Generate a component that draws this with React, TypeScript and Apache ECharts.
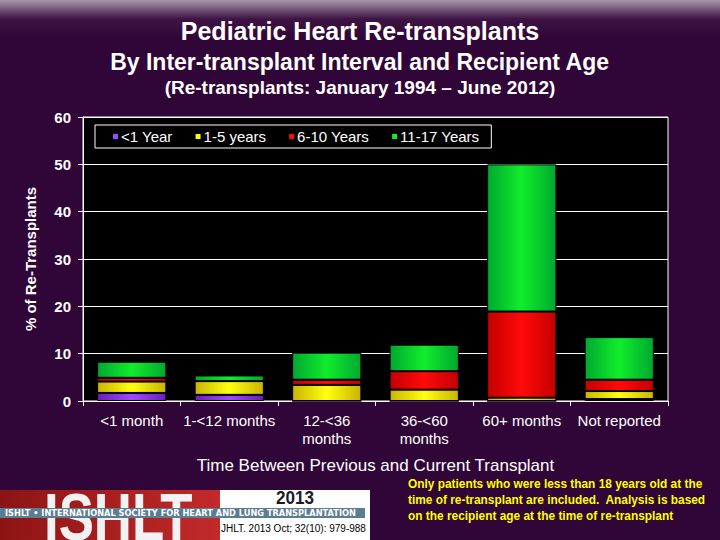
import React, { useEffect, useRef } from "react";
import * as echarts from "echarts";

const categories = ["<1 month", "1-<12 months", "12-<36\nmonths", "36-<60\nmonths", "60+ months", "Not reported"];
const seriesNames = ["<1 Year", "1-5 years", "6-10 Years", "11-17 Years"];
const lessThan1Year = [1.7, 1.3, 0, 0, 0, 0.4];
const oneTo5Years = [2.4, 2.9, 3.4, 2.4, 0.7, 1.7];
const sixTo10Years = [0.8, 0, 1.1, 3.9, 18.2, 2.4];
const elevenTo17Years = [3.4, 1.2, 5.7, 5.6, 31.1, 9.0];
const yTicks = { min: 0, max: 60, interval: 10 };

const noteLines = [
  "Only patients who were less than 18 years old at the",
  "time of re-transplant are included.  Analysis is based",
  "on the recipient age at the time of re-transplant",
];

const barColors = [
  ["#6a1fb8", "#a148ff"],
  ["#c9b400", "#ffff10"],
  ["#c40000", "#ff0a0a"],
  ["#00a830", "#10ee2a"],
];

function grad(edge: string, mid: string) {
  return new echarts.graphic.LinearGradient(0, 0, 1, 0, [
    { offset: 0, color: edge },
    { offset: 0.5, color: mid },
    { offset: 1, color: edge },
  ]);
}

const FONT = "Arial, 'Liberation Sans', sans-serif";

export default function App() {
  const ref = useRef<HTMLDivElement>(null);
  useEffect(() => {
    if (!ref.current) return;
    const chart = echarts.init(ref.current, null, { renderer: "svg" });
    const data = [lessThan1Year, oneTo5Years, sixTo10Years, elevenTo17Years];
    const series = data.map((d, i) => ({
      name: seriesNames[i],
      type: "bar",
      stack: "total",
      barWidth: "71%",
      data: d,
      itemStyle: { color: grad(barColors[i][0], barColors[i][1]), borderColor: "#000", borderWidth: 1 },
    }));
    const option: any = {
      animation: false,
      backgroundColor: "#300638",
      textStyle: { fontFamily: FONT },
      grid: {
        left: 83,
        right: 52,
        top: 117,
        bottom: 139,
        show: true,
        backgroundColor: "#000",
        borderColor: "#fff",
        borderWidth: 1,
      },
      legend: {
        data: seriesNames.map((n, i) => ({ name: n, itemStyle: { color: barColors[i][1] } })),
        left: 95,
        top: 125,
        width: 400,
        padding: [4, 12, 4, 16],
        itemGap: 21,
        itemWidth: 7,
        itemHeight: 7,
        icon: "rect",
        backgroundColor: "#000",
        borderColor: "#fff",
        borderWidth: 1,
        textStyle: { color: "#fff", fontSize: 15, fontFamily: FONT, padding: [0, 0, 0, -3] },
      },
      xAxis: {
        type: "category",
        data: categories,
        axisLine: { show: true, lineStyle: { color: "#fff", width: 1 } },
        axisTick: { show: true, alignWithLabel: false, length: 5, lineStyle: { color: "#fff" } },
        axisLabel: {
          interval: 0,
          color: "#fff",
          fontSize: 15,
          fontFamily: FONT,
          margin: 10,
          lineHeight: 18,
        },
        name: "Time Between Previous and Current Transplant",
        nameLocation: "middle",
        nameGap: 56,
        nameTextStyle: { color: "#fff", fontSize: 17, fontFamily: FONT },
      },
      yAxis: {
        type: "value",
        min: yTicks.min,
        max: yTicks.max,
        interval: yTicks.interval,
        axisLine: { show: true, lineStyle: { color: "#fff" } },
        axisTick: { show: true, length: 5, lineStyle: { color: "#fff" } },
        splitLine: { show: true, lineStyle: { color: "#fff", width: 1 } },
        axisLabel: { color: "#fff", fontSize: 15, fontWeight: "bold", fontFamily: FONT, margin: 12 },
        name: "% of Re-Transplants",
        nameLocation: "middle",
        nameRotate: 90,
        nameGap: 45,
        nameTextStyle: { color: "#fff", fontSize: 15, fontWeight: "bold", fontFamily: FONT },
      },
      series,
      graphic: [
        {
          type: "rect",
          z: -100,
          silent: true,
          shape: { x: 0, y: 0, width: 720, height: 540 },
          style: {
            fill: new echarts.graphic.LinearGradient(0, 0, 0, 1, [
              { offset: 0, color: "#a898ac" },
              { offset: 0.035, color: "#3e1444" },
              { offset: 0.07, color: "#300638" },
              { offset: 1, color: "#300638" },
            ]),
          },
        },
        {
          type: "text",
          left: "center",
          top: 18,
          style: { text: "Pediatric Heart Re-transplants", fill: "#fff", fontSize: 25, fontWeight: "bold", fontFamily: FONT },
        },
        {
          type: "text",
          left: "center",
          top: 50,
          style: { text: "By Inter-transplant Interval and Recipient Age", fill: "#fff", fontSize: 23, fontWeight: "bold", fontFamily: FONT },
        },
        {
          type: "text",
          left: "center",
          top: 78,
          style: { text: "(Re-transplants: January 1994 \u2013 June 2012)", fill: "#fff", fontSize: 19, fontWeight: "bold", fontFamily: FONT },
        },
        // logo block
        {
          type: "rect",
          shape: { x: 0, y: 490, width: 220, height: 50 },
          style: {
            fill: new echarts.graphic.LinearGradient(0, 0, 1, 0, [
              { offset: 0, color: "#8c1414" },
              { offset: 1, color: "#c32a2a" },
            ]),
          },
        },
        {
          type: "rect",
          shape: { x: 220, y: 490, width: 150, height: 50 },
          style: { fill: "#fff" },
        },
        {
          type: "text",
          x: 44,
          y: 484,
          scaleX: 0.8,
          style: { text: "ISHLT", fill: "#f2f2f2", fontSize: 66, fontWeight: "bold", fontFamily: FONT, textVerticalAlign: "top" },
        },
        {
          type: "rect",
          shape: { x: 0, y: 508, width: 365, height: 10 },
          style: { fill: "#5b7d93" },
        },
        {
          type: "text",
          x: 5,
          y: 513,
          scaleX: 0.97,
          style: {
            text: "ISHLT \u2022 INTERNATIONAL SOCIETY FOR HEART AND LUNG TRANSPLANTATION",
            fill: "#fff",
            fontSize: 8.5,
            fontWeight: "bold",
            fontFamily: "'DejaVu Sans', sans-serif",
            textVerticalAlign: "middle",
          },
        },
        {
          type: "text",
          x: 295,
          y: 498,
          scaleX: 0.9,
          style: { text: "2013", fill: "#1a1a2a", fontSize: 19, fontWeight: "bold", fontFamily: FONT, textAlign: "center", textVerticalAlign: "middle" },
        },
        {
          type: "text",
          x: 221,
          y: 528,
          style: { text: "JHLT. 2013 Oct; 32(10): 979-988", fill: "#000", fontSize: 10, fontFamily: FONT, textVerticalAlign: "middle" },
        },
        ...noteLines.map((t, i) => ({
          type: "text",
          x: 408,
          y: 484 + i * 16,
          scaleX: 0.95,
          style: { text: t, fill: "#ffff00", fontSize: 12.5, fontWeight: "bold", fontFamily: FONT, textVerticalAlign: "middle" },
        })),
      ],
    };
    chart.setOption(option);
    return () => chart.dispose();
  }, []);
  return <div ref={ref} style={{ position: "absolute", left: 0, top: 0, width: 720, height: 540 }} />;
}
